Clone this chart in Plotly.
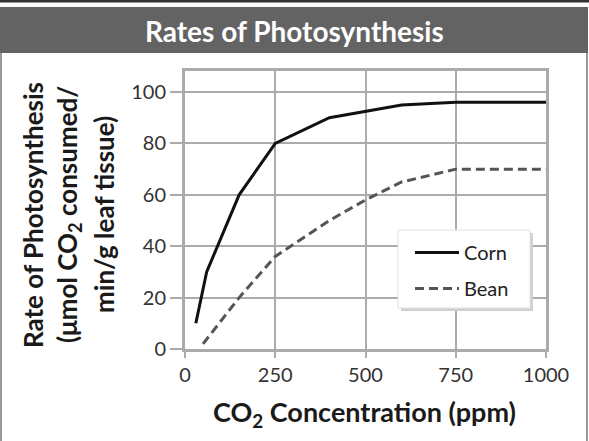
import plotly.graph_objects as go

# Data
co2_corn = [30, 60, 150, 250, 400, 600, 750, 1000]
rate_corn = [10, 30, 60, 80, 90, 95, 96, 96]
co2_bean = [50, 150, 250, 400, 500, 600, 750, 1000]
rate_bean = [2, 20, 36, 50, 58, 65, 70, 70]
x_ticks = [0, 250, 500, 750, 1000]
y_ticks = [0, 20, 40, 60, 80, 100]

W, H = 589, 441
L, R, T, B = 185, 43, 71, 92
pw = W - L - R
ph = H - T - B

def px(xp):
    return (xp - L) / pw

def py(yp):
    return (H - B - yp) / ph

FONT = "Lato"
GRID = "#ababab"
TXT = "#1a1a1a"

fig = go.Figure()
fig.add_trace(go.Scatter(x=co2_corn, y=rate_corn, mode="lines", name="Corn", legendgroup="a",
                         line=dict(color="#111111", width=3)))
fig.add_trace(go.Scatter(x=co2_bean, y=rate_bean, mode="lines", name="Bean", legendgroup="b",
                         line=dict(color="#555555", width=3, dash="9px,5px")))

shapes = [
    dict(type="rect", xref="paper", yref="paper", x0=px(0), x1=px(W), y0=py(0), y1=py(2.5),
         fillcolor="#333333", line_width=0, layer="below"),
    dict(type="rect", xref="paper", yref="paper", x0=px(0), x1=px(588), y0=py(7), y1=py(53),
         fillcolor="#636363", line_width=0, layer="below"),
    dict(type="rect", xref="paper", yref="paper", x0=px(0), x1=px(2), y0=py(53), y1=py(H),
         fillcolor="#9a9a9a", line_width=0, layer="below"),
    dict(type="rect", xref="paper", yref="paper", x0=px(586), x1=px(588), y0=py(53), y1=py(H),
         fillcolor="#9a9a9a", line_width=0, layer="below"),
    # legend shadow + box
    dict(type="rect", xref="paper", yref="paper", x0=px(401), x1=px(533), y0=py(233), y1=py(311),
         fillcolor="#d0d0d0", line_width=0, layer="above"),
    dict(type="rect", xref="paper", yref="paper", x0=px(398), x1=px(530), y0=py(230), y1=py(308),
         fillcolor="white", line=dict(color="#e2e2e2", width=1), layer="above"),
]

annotations = [
    dict(text="<b>Rates of Photosynthesis</b>", xref="paper", yref="paper", x=px(294), y=py(31),
         showarrow=False, font=dict(family=FONT, size=28, color="white"), xanchor="center", yanchor="middle"),
    dict(text="<b>CO<sub>2</sub> Concentration (ppm)</b>", xref="paper", yref="paper", x=px(364), y=py(413),
         showarrow=False, font=dict(family=FONT, size=27, color=TXT), xanchor="center", yanchor="middle"),
    dict(text="<b>Rate of Photosynthesis</b>", xref="paper", yref="paper", x=px(33), y=py(215),
         showarrow=False, textangle=-90, font=dict(family=FONT, size=26, color=TXT),
         xanchor="center", yanchor="middle"),
    dict(text="<b>(μmol CO<sub>2</sub> consumed/</b>", xref="paper", yref="paper", x=px(68), y=py(215),
         showarrow=False, textangle=-90, font=dict(family=FONT, size=26, color=TXT),
         xanchor="center", yanchor="middle"),
    dict(text="<b>min/g leaf tissue)</b>", xref="paper", yref="paper", x=px(104), y=py(215),
         showarrow=False, textangle=-90, font=dict(family=FONT, size=26, color=TXT),
         xanchor="center", yanchor="middle"),
]

fig.update_layout(
    width=W, height=H,
    margin=dict(l=L, r=R, t=T, b=B, pad=0),
    paper_bgcolor="white", plot_bgcolor="white",
    shapes=shapes, annotations=annotations,
    showlegend=True,
    legend=dict(x=px(410), y=py(233), xanchor="left", yanchor="top",
                bgcolor="rgba(0,0,0,0)", borderwidth=0,
                font=dict(family=FONT, size=20, color="#222222"),
                itemwidth=44, traceorder="grouped", tracegroupgap=7),
    xaxis=dict(range=[0, 1000], tickvals=x_ticks, ticks="outside", ticklen=6, tickwidth=2,
               tickcolor=GRID, showgrid=True, gridcolor=GRID, gridwidth=2,
               showline=True, linecolor=GRID, linewidth=3, mirror=True, zeroline=False,
               tickfont=dict(family=FONT, size=20, color="#333333")),
    yaxis=dict(range=[0, 108.2], tickvals=y_ticks, ticks="outside", ticklen=12, tickwidth=2,
               tickcolor=GRID, showgrid=True, gridcolor=GRID, gridwidth=2,
               showline=True, linecolor=GRID, linewidth=3, mirror=True, zeroline=False,
               tickfont=dict(family=FONT, size=20, color="#333333")),
)

fig.write_html("out.html", config={"displayModeBar": False},
               post_script="document.body.style.margin='0';")
